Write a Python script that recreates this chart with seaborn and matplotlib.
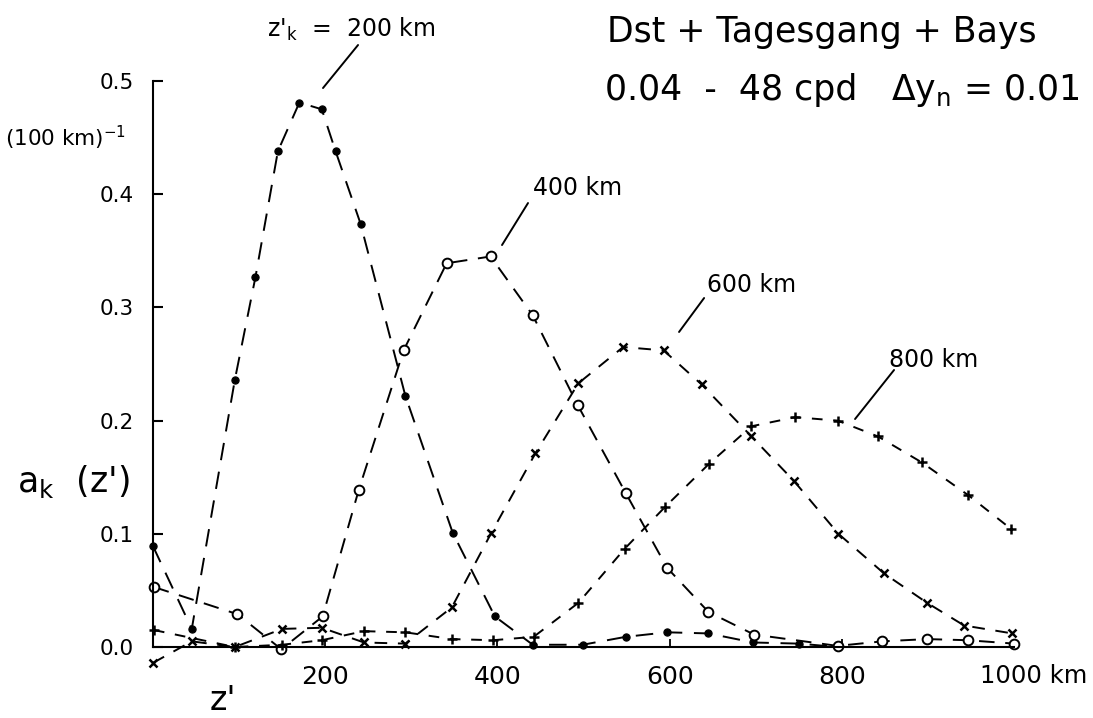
import matplotlib
matplotlib.use("Agg")
import matplotlib.pyplot as plt
import seaborn as sns

# ---------------- data ----------------
z200 = [0, 45, 95, 119, 145, 170, 196, 212, 241, 293, 348, 397, 441, 499, 549, 597, 645, 697, 750, 795]
a200 = [0.089, 0.016, 0.236, 0.327, 0.438, 0.481, 0.475, 0.438, 0.374, 0.222, 0.101, 0.027,
        0.002, 0.002, 0.009, 0.013, 0.012, 0.004, 0.003, 0.000]

z400 = [1, 98, 149, 197, 239, 291, 341, 392, 441, 493, 549, 597, 645, 698, 795, 847, 899, 946, 1000]
a400 = [0.053, 0.029, -0.002, 0.027, 0.139, 0.262, 0.339, 0.345, 0.293, 0.214, 0.136, 0.070,
        0.031, 0.011, 0.001, 0.005, 0.007, 0.006, 0.003]

z600 = [0, 45, 95, 150, 196, 245, 293, 347, 393, 444, 494, 546, 593, 637, 695, 744, 796, 849, 899, 942, 998]
a600 = [-0.014, 0.005, 0.000, 0.016, 0.017, 0.004, 0.003, 0.035, 0.101, 0.171, 0.233, 0.265,
        0.262, 0.232, 0.186, 0.147, 0.100, 0.065, 0.039, 0.019, 0.012]

z800 = [1, 95, 150, 196, 245, 293, 347, 395, 442, 494, 548, 595, 646, 695, 746, 795, 842, 893, 947, 997]
a800 = [0.015, 0.000, 0.002, 0.006, 0.014, 0.013, 0.007, 0.006, 0.009, 0.039, 0.087, 0.124,
        0.162, 0.195, 0.203, 0.200, 0.186, 0.163, 0.134, 0.104]

x_ticks = [200, 400, 600, 800, 1000]
x_ticklabels = ["200", "400", "600", "800", ""]
y_ticks = [0.0, 0.1, 0.2, 0.3, 0.4, 0.5]
y_ticklabels = ["0.0", "0.1", "0.2", "0.3", "0.4", "0.5"]

# ---------------- styling ----------------
sns.set_theme(style="white")
plt.rcParams["font.family"] = ["DejaVu Sans"]
plt.rcParams["mathtext.fontset"] = "dejavusans"
plt.rcParams["text.color"] = "black"
plt.rcParams["axes.labelcolor"] = "black"
plt.rcParams["xtick.color"] = "black"
plt.rcParams["ytick.color"] = "black"

W, H = 1093, 718
fig = plt.figure(figsize=(W / 100, H / 100), dpi=100)
fig.patch.set_facecolor("white")
ax = fig.add_axes([0.1085, 0.0358, 0.8508, 0.8829])
ax.set_facecolor("white")
ax.set_xlim(-40, 1040)
ax.set_ylim(-0.04, 0.52)

series = [
    (z200, a200, dict(marker="o", markersize=5.2, markerfacecolor="black",
                      markeredgecolor="black", markeredgewidth=0.8), (9, 6)),
    (z400, a400, dict(marker="o", markersize=7, markerfacecolor="white",
                      markeredgecolor="black", markeredgewidth=1.4), (8, 5.5)),
    (z600, a600, dict(marker="x", markersize=6, markerfacecolor="black",
                      markeredgecolor="black", markeredgewidth=1.8), (6.5, 5.5)),
    (z800, a800, dict(marker="+", markersize=7, markerfacecolor="black",
                      markeredgecolor="black", markeredgewidth=1.8), (5.5, 5.5)),
]

for z, a, mk, dash in series:
    sns.lineplot(x=z, y=a, ax=ax, color="black", linewidth=1.4,
                 linestyle=(0, dash), estimator=None, sort=False,
                 legend=False, **mk)

# ---------------- axes ----------------
for s in ["top", "right"]:
    ax.spines[s].set_visible(False)
ax.spines["left"].set_position(("data", 0))
ax.spines["bottom"].set_position(("data", 0))
ax.spines["left"].set_bounds(0, 0.5)
ax.spines["bottom"].set_bounds(0, 1000)
for s in ["left", "bottom"]:
    ax.spines[s].set_linewidth(1.5)
    ax.spines[s].set_color("black")

ax.set_xticks(x_ticks)
ax.set_xticklabels(x_ticklabels)
ax.set_yticks(y_ticks)
ax.set_yticklabels(y_ticklabels)
ax.tick_params(axis="y", direction="in", length=7, width=1.5, pad=14,
               labelsize=15.5, colors="black", left=True)
ax.tick_params(axis="x", direction="in", length=6, width=1.3, pad=13,
               labelsize=18, colors="black", bottom=True)
ax.set_xlabel("")
ax.set_ylabel("")
ax.grid(False)

# extra axis texts
ax.text(960.5, -0.0318, "1000 km", fontsize=17.5, ha="left", va="baseline")
ax.text(66, -0.0555, "z'", fontsize=24, ha="left", va="baseline")
ax.text(-158, 0.137, "a$_\\mathregular{k}$  (z')", fontsize=25, ha="left", va="baseline")
ax.text(-172, 0.4426, "(100 km)$^{-1}$", fontsize=15.5, ha="left", va="baseline")

# curve labels with leader lines
labels = [
    ("z$'_\\mathregular{k}$  =  200 km", (132, 0.5389), (238.1, 0.5318), (197.4, 0.4938)),
    ("400 km", (441, 0.3993), (435.5, 0.3922), (405.3, 0.3551)),
    ("600 km", (643, 0.3136), (640.0, 0.3083), (610.9, 0.2783)),
    ("800 km", (855, 0.2473), (860.6, 0.2447), (815.3, 0.2014)),
]
for txt, tpos, p1, p2 in labels:
    ax.text(tpos[0], tpos[1], txt, fontsize=17, ha="left", va="baseline")
    ax.annotate("", xy=p2, xytext=p1,
                arrowprops=dict(arrowstyle="-", color="black", lw=1.4,
                                shrinkA=0, shrinkB=0))

# title block (top right)
fig.text(607 / W, 1 - 42 / H, "Dst + Tagesgang + Bays", fontsize=25,
         ha="left", va="baseline")
fig.text(605 / W, 1 - 100 / H, "0.04  -  48 cpd", fontsize=25,
         ha="left", va="baseline")
fig.text(1080 / W, 1 - 100 / H, "Δy$_\\mathregular{n}$ = 0.01", fontsize=25,
         ha="right", va="baseline")

fig.savefig("out.png", dpi=100, facecolor="white")
